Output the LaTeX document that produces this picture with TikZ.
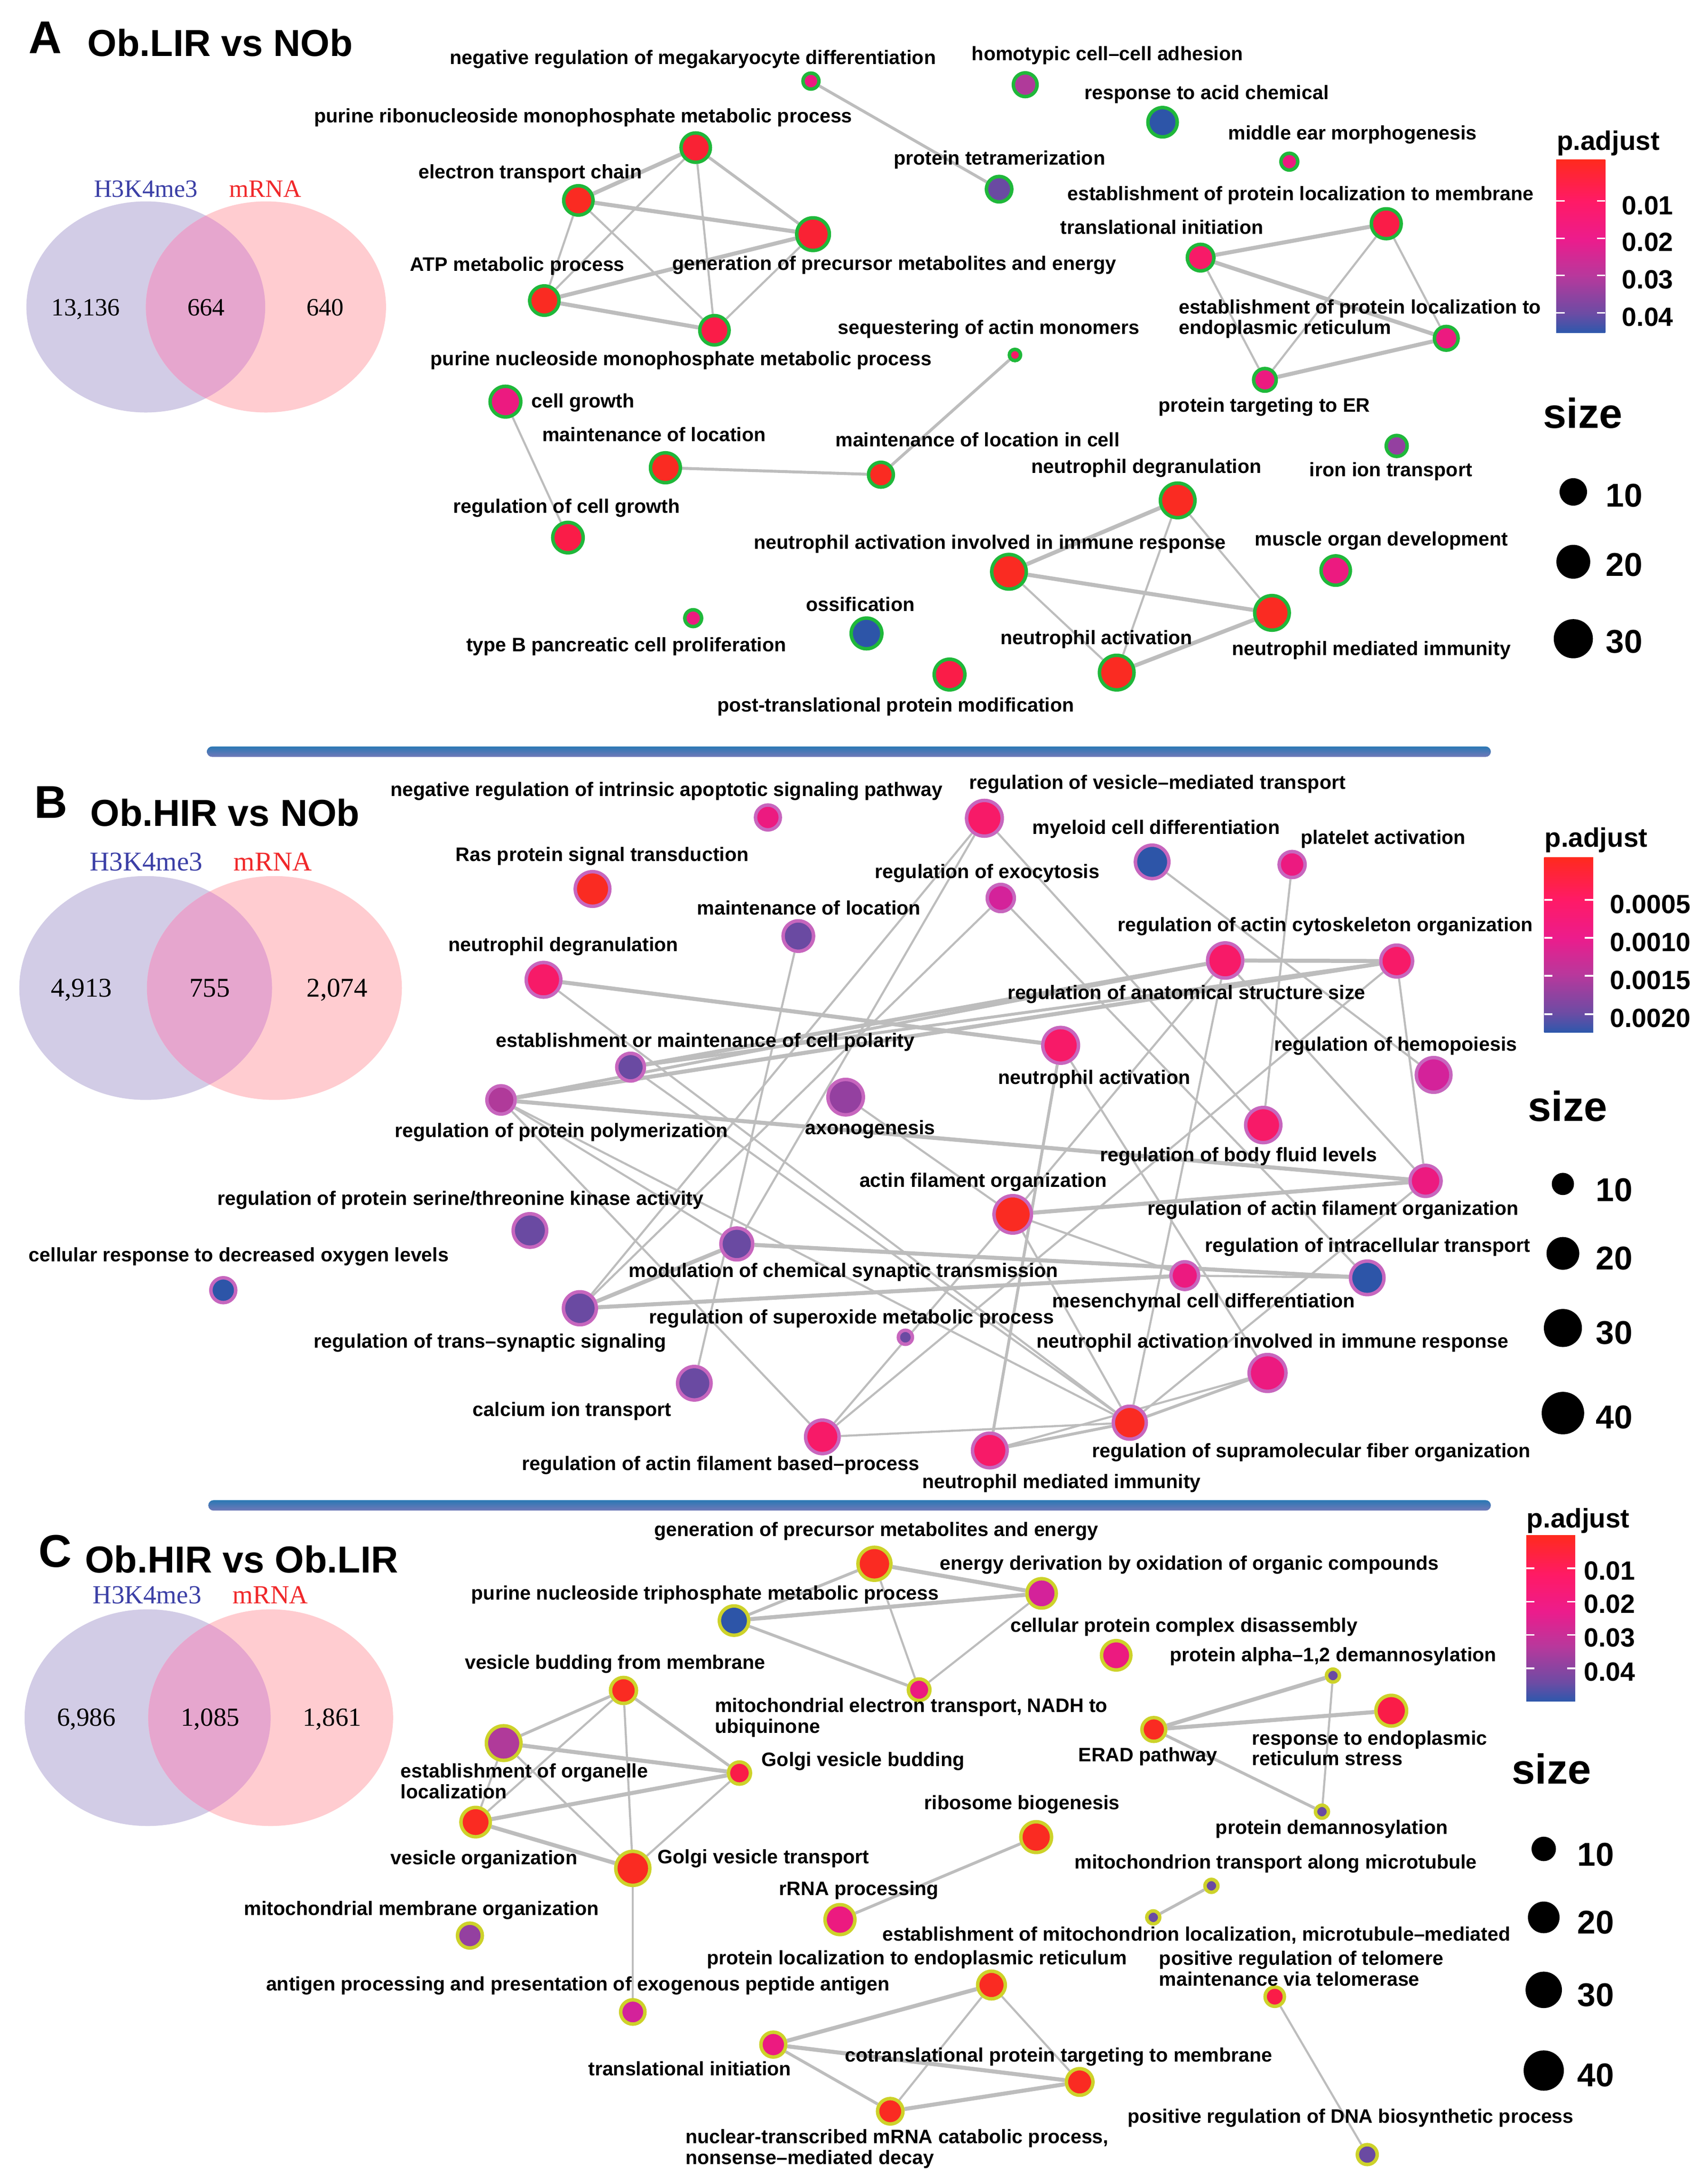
\documentclass[tikz,border=0pt]{standalone}
\usepackage{fontspec}
\setmainfont{Liberation Sans}
\newfontfamily\vennfont{Liberation Serif}
\usetikzlibrary{backgrounds}

\definecolor{cRed}{HTML}{FA2B22}
\definecolor{cScarlet}{HTML}{F92234}
\definecolor{cCrimson}{HTML}{FA1C48}
\definecolor{cRose}{HTML}{F71A68}
\definecolor{cPink}{HTML}{EC1A80}
\definecolor{cMagenta}{HTML}{D4229A}
\definecolor{cOrchid}{HTML}{B03A9A}
\definecolor{cViolet}{HTML}{9440A0}
\definecolor{cPurple}{HTML}{6A4AA2}
\definecolor{cBlue}{HTML}{2D55A8}
\definecolor{ringA}{HTML}{1FB83A}
\definecolor{ringB}{HTML}{C766BE}
\definecolor{ringC}{HTML}{CDD22A}
\definecolor{linkgray}{HTML}{BDBDBD}
\definecolor{vennL}{HTML}{D2CCE6}
\definecolor{vennR}{HTML}{FFCCD0}
\definecolor{vennM}{HTML}{E6A6CE}
\definecolor{vennBlue}{HTML}{3B3FA6}
\definecolor{vennRed}{HTML}{F0282A}
\definecolor{sepTop}{HTML}{2A78B4}
\definecolor{sepMid}{HTML}{1898D6}
\definecolor{sepBot}{HTML}{7078B8}
\definecolor{barRed}{HTML}{FF2A1E}
\definecolor{barPink}{HTML}{FF1A66}
\definecolor{barMagenta}{HTML}{EC1C8C}
\definecolor{barOrchid}{HTML}{B8389C}
\definecolor{barPurple}{HTML}{6C4CA4}
\definecolor{barBlue}{HTML}{2E58AC}

\pgfdeclareverticalshading{padjbar}{100bp}{color(0bp)=(barBlue); color(25bp)=(barBlue); color(30.5bp)=(barPurple); color(41.5bp)=(barOrchid); color(52bp)=(barMagenta); color(63bp)=(barPink); color(75bp)=(barRed); color(100bp)=(barRed)}

\tikzset{
  term/.style={circle, inner sep=0pt, line width=0.5mm},
  termA/.style={term, draw=ringA},
  termB/.style={term, draw=ringB},
  termC/.style={term, draw=ringC},
  sz/.style={minimum size=#1*0.4mm-0.5mm},
  keydot/.style={circle, fill=black, inner sep=0pt, minimum size=#1*0.4mm},
  lbl/.style={font=\fontsize{8}{6.5}\selectfont\bfseries, inner sep=0pt, text height=2.06mm, text depth=0.59mm},
  lblpair/.style={font=\fontsize{8}{6.5}\selectfont\bfseries, inner sep=0pt, align=left, anchor=west},
  link/.style={draw=linkgray, line width=0.3mm},
  linkmid/.style={link, line width=0.42mm},
  linkthick/.style={link, line width=0.58mm},
  panel/.style={font=\fontsize{18.8}{20}\selectfont\bfseries, inner sep=0pt, anchor=base west},
  paneltitle/.style={font=\fontsize{15.4}{17}\selectfont\bfseries, inner sep=0pt, anchor=base west},
  venntxt/.style={font=\vennfont\fontsize{#1}{#1}\selectfont, inner sep=0pt, anchor=base},
  keytitle/.style={font=\fontsize{11}{12}\selectfont\bfseries, inner sep=0pt, anchor=base west},
  ticklbl/.style={font=\fontsize{10.8}{12}\selectfont\bfseries, inner sep=0pt, anchor=base west},
  sizetitle/.style={font=\fontsize{17.2}{18}\selectfont\bfseries, inner sep=0pt, anchor=base west},
  sizelbl/.style={font=\fontsize{13.5}{14}\selectfont\bfseries, inner sep=0pt, anchor=base west},
  sepbar/.style={top color=sepTop, middle color=sepMid, bottom color=sepBot, rounded corners=0.75mm}
}

\begin{document}
\begin{tikzpicture}[x=0.2mm, y=-0.2mm]
\useasboundingbox (0,0) rectangle (1230,1572.6);

% panel A
\node[panel] (aLetter) at (20.4,38.3) {A};
\node[paneltitle] (aTitle) at (62.7,40.4) {Ob.LIR vs NOb};
\fill[vennL] (105,221) ellipse [x radius=86, y radius=76];
\fill[vennR] (191.5,221) ellipse [x radius=86.5, y radius=76];
\begin{scope}
\clip (105,221) ellipse [x radius=86, y radius=76];
\fill[vennM] (191.5,221) ellipse [x radius=86.5, y radius=76];
\end{scope}
\node[venntxt=10.2, text=vennBlue] (aH3) at (105,142) {H3K4me3};
\node[venntxt=10.2, text=vennRed] (aRna) at (191,142) {mRNA};
\node[venntxt=10.2] (aOnly) at (61.8,227.4) {13,136};
\node[venntxt=10.2] (aBoth) at (148.4,227.4) {664};
\node[venntxt=10.2] (aRnaOnly) at (234.1,227.4) {640};

\node[termA, sz=7, fill=cPink] (aNegmeg) at (584,58.4) {};
\node[termA, sz=9.8, fill=cOrchid] (aHomotypic) at (738.3,61) {};
\node[termA, sz=11.8, fill=cBlue] (aAcid) at (837.2,88) {};
\node[termA, sz=7.3, fill=cPink] (aMiddleear) at (928.5,116.4) {};
\node[termA, sz=10.4, fill=cPurple] (aTetramer) at (719.5,136.2) {};
\node[termA, sz=11.8, fill=cScarlet] (aPrrmp) at (501,106.3) {};
\node[termA, sz=11.8, fill=cRed] (aEtc) at (416.5,144.3) {};
\node[termA, sz=13, fill=cScarlet] (aGenprec) at (585.5,168.6) {};
\node[termA, sz=11.8, fill=cRed] (aAtp) at (392,216.4) {};
\node[termA, sz=11.8, fill=cCrimson] (aPnmp) at (514.5,237.8) {};
\node[termA, sz=10.8, fill=cRose] (aTransinit) at (864.6,185.5) {};
\node[termA, sz=12, fill=cCrimson] (aEplm) at (998.3,161.1) {};
\node[termA, sz=9.8, fill=cPink] (aEper) at (1041.5,243.6) {};
\node[termA, sz=9.4, fill=cPink] (aPter) at (910.9,273.5) {};
\node[termA, sz=5.3, fill=cRose] (aSeqactin) at (730.9,255.6) {};
\node[termA, sz=10.2, fill=cRed] (aMlic) at (634.4,341.8) {};
\node[termA, sz=12, fill=cRed] (aMloc) at (479.2,336.8) {};
\node[termA, sz=12.3, fill=cPink] (aCellgrowth) at (364,289.2) {};
\node[termA, sz=12.2, fill=cCrimson] (aRegcg) at (409,387.1) {};
\node[termA, sz=13.7, fill=cRed] (aNdegran) at (848.1,360.3) {};
\node[termA, sz=13.7, fill=cRed] (aNairr) at (726.6,411.7) {};
\node[termA, sz=13.7, fill=cRed] (aNmi) at (916,441.3) {};
\node[termA, sz=13.7, fill=cRed] (aNact) at (804.2,484.3) {};
\node[termA, sz=11.8, fill=cPink] (aMuscle) at (961.9,410.8) {};
\node[termA, sz=8.8, fill=cViolet] (aIron) at (1005.8,321.1) {};
\node[termA, sz=12.3, fill=cBlue] (aOssif) at (624,456.1) {};
\node[termA, sz=7.3, fill=cPink] (aTypeB) at (499.2,445.1) {};
\node[termA, sz=12.3, fill=cCrimson] (aPtpm) at (683.8,485.7) {};

\node[lbl] (aNegmegT) at (499,42.7) {negative regulation of megakaryocyte differentiation};
\node[lbl] (aHomotypicT) at (797.5,40) {homotypic cell–cell adhesion};
\node[lbl] (aAcidT) at (869,68) {response to acid chemical};
\node[lbl] (aMiddleearT) at (974,97) {middle ear morphogenesis};
\node[lbl] (aTetramerT) at (719.8,115) {protein tetramerization};
\node[lbl] (aPrrmpT) at (420,84.5) {purine ribonucleoside monophosphate metabolic process};
\node[lbl] (aEtcT) at (381.8,125) {electron transport chain};
\node[lbl] (aGenprecT) at (644,190.8) {generation of precursor metabolites and energy};
\node[lbl] (aAtpT) at (372.6,191.6) {ATP metabolic process};
\node[lbl] (aPnmpT) at (490.5,259.6) {purine nucleoside monophosphate metabolic process};
\node[lbl] (aTransinitT) at (836.7,165) {translational initiation};
\node[lbl] (aEplmT) at (936.6,140.8) {establishment of protein localization to membrane};
\node[lblpair] (aEperT) at (848.5,229.6) {establishment of protein localization to\\endoplasmic reticulum};
\node[lbl] (aPterT) at (910.5,293) {protein targeting to ER};
\node[lbl] (aSeqactinT) at (712,237) {sequestering of actin monomers};
\node[lbl] (aMlicT) at (704,318) {maintenance of location in cell};
\node[lbl] (aMlocT) at (471,314) {maintenance of location};
\node[lbl, anchor=west] (aCellgrowthT) at (382.4,290) {cell growth};
\node[lbl] (aRegcgT) at (408,365.9) {regulation of cell growth};
\node[lbl] (aNdegranT) at (825.6,337.1) {neutrophil degranulation};
\node[lbl] (aNairrT) at (712.9,391.6) {neutrophil activation involved in immune response};
\node[lbl] (aNmiT) at (987.5,468.3) {neutrophil mediated immunity};
\node[lbl] (aNactT) at (789.6,460.3) {neutrophil activation};
\node[lbl] (aMuscleT) at (994.8,389.4) {muscle organ development};
\node[lbl] (aIronT) at (1001.6,339.4) {iron ion transport};
\node[lbl] (aOssifT) at (619.6,436.4) {ossification};
\node[lbl] (aTypeBT) at (451,465.5) {type B pancreatic cell proliferation};
\node[lbl] (aPtpmT) at (645,508.7) {post-translational protein modification};

\node[keytitle] (aKeyTitle) at (1120.7,108) {p.adjust};
\shade[shading=padjbar] (1120.7,115) rectangle (1156,239.5);
\foreach \ty in {144.6,171.6,198.3,225.3}
  \draw[white, line width=0.25mm] (1120.7,\ty) -- ++(6,0) (1156,\ty) -- ++(-6,0);
\foreach \t/\ty [count=\i] in {0.01/154.5, 0.02/181, 0.03/208, 0.04/234.8}
  \node[ticklbl] (aTick\i) at (1167.7,\ty) {\t};
\node[sizetitle] (aSizeTitle) at (1110.9,308.4) {size};
\foreach \s/\r/\dy/\ly [count=\i] in {10/9.9/354.2/365, 20/12.2/404.5/415, 30/14.1/459.9/470} {
  \node[keydot=\r] (aDot\i) at (1133,\dy) {};
  \node[sizelbl] (aSize\i) at (1156,\ly) {\s};
}

\shade[sepbar] (149,537.5) rectangle (1073.6,545);

% panel B
\node[panel] (bLetter) at (24.3,589.2) {B};
\node[paneltitle] (bTitle) at (64.7,594.7) {Ob.HIR vs NOb};
\fill[vennL] (104.9,711.4) ellipse [x radius=91, y radius=80.6];
\fill[vennR] (197.6,711.4) ellipse [x radius=91.8, y radius=80.6];
\begin{scope}
\clip (104.9,711.4) ellipse [x radius=91, y radius=80.6];
\fill[vennM] (197.6,711.4) ellipse [x radius=91.8, y radius=80.6];
\end{scope}
\node[venntxt=11.1, text=vennBlue] (bH3) at (105.3,627.1) {H3K4me3};
\node[venntxt=11.1, text=vennRed] (bRna) at (196.5,627.1) {mRNA};
\node[venntxt=11.1] (bOnly) at (58.8,717.9) {4,913};
\node[venntxt=11.1] (bBoth) at (151,717.9) {755};
\node[venntxt=11.1] (bRnaOnly) at (242.8,717.9) {2,074};

\node[termB, sz=10.2, fill=cPink] (bNegapop) at (553,588.6) {};
\node[termB, sz=14.1, fill=cRose] (bVesmed) at (708.9,589.2) {};
\node[termB, sz=13.3, fill=cBlue] (bMyeloid) at (829.7,620.6) {};
\node[termB, sz=10.6, fill=cPink] (bPlatelet) at (930.5,622.5) {};
\node[termB, sz=11, fill=cMagenta] (bExocyt) at (720.7,646.6) {};
\node[termB, sz=13.7, fill=cRed] (bRas) at (426.7,640.1) {};
\node[termB, sz=12.2, fill=cPurple] (bMloc) at (574.9,674) {};
\node[termB, sz=13.7, fill=cRose] (bNdeg) at (391.4,705.5) {};
\node[termB, sz=13.9, fill=cRose] (bAnat) at (882.3,691.6) {};
\node[termB, sz=12.7, fill=cRose] (bRactcyto) at (1005.8,692) {};
\node[termB, sz=14.1, fill=cRose] (bNact) at (763.8,752.7) {};
\node[termB, sz=13.7, fill=cMagenta] (bHemopo) at (1032.4,774) {};
\node[termB, sz=11.2, fill=cPurple] (bEstpol) at (454.1,768.4) {};
\node[termB, sz=11.4, fill=cOrchid] (bProtpoly) at (360.8,792) {};
\node[termB, sz=14, fill=cViolet] (bAxon) at (609,790) {};
\node[termB, sz=13.9, fill=cRose] (bBodyfl) at (909.7,810.1) {};
\node[termB, sz=12.4, fill=cPink] (bRactfil) at (1026.6,850.3) {};
\node[termB, sz=14.7, fill=cRed] (bActfil) at (729.3,874.4) {};
\node[termB, sz=13.3, fill=cBlue] (bIntracell) at (984.6,920.1) {};
\node[termB, sz=11.2, fill=cPink] (bMesench) at (853.2,918.5) {};
\node[termB, sz=12.7, fill=cPurple] (bModchem) at (530.6,895.7) {};
\node[termB, sz=13.3, fill=cPurple] (bSerthr) at (381.6,886) {};
\node[termB, sz=10.2, fill=cBlue] (bCellresp) at (160.8,929) {};
\node[termB, sz=13.1, fill=cPurple] (bTranssyn) at (417.6,942) {};
\node[termB, sz=6.3, fill=cPurple] (bSuperox) at (652,962.9) {};
\node[termB, sz=14.5, fill=cPink] (bNairr) at (912.8,988.6) {};
\node[termB, sz=13.3, fill=cPurple] (bCalcium) at (500,996) {};
\node[termB, sz=13.3, fill=cRose] (bActfilbased) at (592.2,1034.6) {};
\node[termB, sz=13.1, fill=cRed] (bSupramol) at (813.6,1024.4) {};
\node[termB, sz=13.7, fill=cRose] (bNmi) at (712.8,1044.4) {};

\node[lbl] (bNegapopT) at (480,569.7) {negative regulation of intrinsic apoptotic signaling pathway};
\node[lbl] (bVesmedT) at (833.5,564.5) {regulation of vesicle–mediated transport};
\node[lbl] (bMyeloidT) at (832.6,597.1) {myeloid cell differentiation};
\node[lbl] (bPlateletT) at (996,604) {platelet activation};
\node[lbl] (bExocytT) at (711,628.6) {regulation of exocytosis};
\node[lbl] (bRasT) at (433.7,616.4) {Ras protein signal transduction};
\node[lbl] (bMlocT) at (582.5,654.9) {maintenance of location};
\node[lbl] (bNdegT) at (405.7,681.2) {neutrophil degranulation};
\node[lbl] (bRactcytoT) at (954.4,667) {regulation of actin cytoskeleton organization};
\node[lbl] (bAnatT) at (854.4,716) {regulation of anatomical structure size};
\node[lbl] (bNactT) at (788,777.1) {neutrophil activation};
\node[lbl] (bHemopoT) at (1005,753) {regulation of hemopoiesis};
\node[lbl] (bEstpolT) at (507.8,750.3) {establishment or maintenance of cell polarity};
\node[lbl] (bProtpolyT) at (404.3,815.1) {regulation of protein polymerization};
\node[lbl] (bAxonT) at (626.6,813.3) {axonogenesis};
\node[lbl] (bBodyflT) at (892,832.7) {regulation of body fluid levels};
\node[lbl] (bRactfilT) at (960,871.2) {regulation of actin filament organization};
\node[lbl] (bActfilT) at (708,851.2) {actin filament organization};
\node[lbl] (bIntracellT) at (984.8,897.9) {regulation of intracellular transport};
\node[lbl] (bMesenchT) at (866.8,937.9) {mesenchymal cell differentiation};
\node[lbl] (bModchemT) at (607.4,916) {modulation of chemical synaptic transmission};
\node[lbl] (bSerthrT) at (331.6,864.2) {regulation of protein serine/threonine kinase activity};
\node[lbl] (bCellrespT) at (172,904.6) {cellular response to decreased oxygen levels};
\node[lbl] (bTranssynT) at (353,967) {regulation of trans–synaptic signaling};
\node[lbl] (bSuperoxT) at (613.3,949.4) {regulation of superoxide metabolic process};
\node[lbl] (bNairrT) at (916.4,967) {neutrophil activation involved in immune response};
\node[lbl] (bCalciumT) at (412,1016) {calcium ion transport};
\node[lbl] (bActfilbasedT) at (519,1055) {regulation of actin filament based–process};
\node[lbl] (bSupramolT) at (944.4,1045.7) {regulation of supramolecular fiber organization};
\node[lbl] (bNmiT) at (764.4,1067.9) {neutrophil mediated immunity};

\node[keytitle] (bKeyTitle) at (1112,610) {p.adjust};
\shade[shading=padjbar] (1112,617.5) rectangle (1147.3,743.4);
\foreach \ty in {647.9,675.3,702.7,730.3}
  \draw[white, line width=0.25mm] (1112,\ty) -- ++(6,0) (1147.3,\ty) -- ++(-6,0);
\foreach \t/\ty [count=\i] in {0.0005/657.7, 0.0010/684.9, 0.0015/712.3, 0.0020/739.7}
  \node[ticklbl] (bTick\i) at (1159.1,\ty) {\t};
\node[sizetitle] (bSizeTitle) at (1100,807.4) {size};
\foreach \s/\r/\dy/\ly [count=\i] in {10/8/852.5/865.1, 20/11.8/902.5/914.2, 30/13.7/956.2/967.9, 40/15.3/1017.5/1028.5} {
  \node[keydot=\r] (bDot\i) at (1125.5,\dy) {};
  \node[sizelbl] (bSize\i) at (1148.9,\ly) {\s};
}

\shade[sepbar] (150,1080.2) rectangle (1073.6,1087.7);

% panel C
\node[panel] (cLetter) at (27.5,1128.5) {C};
\node[paneltitle] (cTitle) at (60.8,1132.6) {Ob.HIR vs Ob.LIR};
\fill[vennL] (106.3,1236.8) ellipse [x radius=88.6, y radius=78];
\fill[vennR] (194.9,1236.8) ellipse [x radius=88.2, y radius=78];
\begin{scope}
\clip (106.3,1236.8) ellipse [x radius=88.6, y radius=78];
\fill[vennM] (194.9,1236.8) ellipse [x radius=88.2, y radius=78];
\end{scope}
\node[venntxt=10.7, text=vennBlue] (cH3) at (105.9,1154.7) {H3K4me3};
\node[venntxt=10.7, text=vennRed] (cRna) at (194.7,1154.7) {mRNA};
\node[venntxt=10.7] (cOnly) at (62.2,1242.9) {6,986};
\node[venntxt=10.7] (cBoth) at (151.4,1242.9) {1,085};
\node[venntxt=10.7] (cRnaOnly) at (239.2,1242.9) {1,861};

\node[termC, sz=13.1, fill=cRed] (cGenprec) at (629.7,1126) {};
\node[termC, sz=11.8, fill=cMagenta] (cEnergy) at (750.1,1147.3) {};
\node[termC, sz=11.8, fill=cBlue] (cPurtri) at (528.6,1166.9) {};
\node[termC, sz=9, fill=cPink] (cMitoet) at (661.9,1216.7) {};
\node[termC, sz=11.8, fill=cPink] (cCpcd) at (803.8,1191.9) {};
\node[termC, sz=5.9, fill=cPurple] (cAlpha) at (959.9,1206.5) {};
\node[termC, sz=12.3, fill=cCrimson] (cRespER) at (1001.9,1231.8) {};
\node[termC, sz=9.8, fill=cRed] (cErad) at (830.9,1245.3) {};
\node[termC, sz=5.9, fill=cPurple] (cDemann) at (952,1304.5) {};
\node[termC, sz=10.6, fill=cRed] (cVbud) at (449,1217.2) {};
\node[termC, sz=13.7, fill=cOrchid] (cEstorg) at (362.7,1255.1) {};
\node[termC, sz=9.2, fill=cCrimson] (cGolgibud) at (532.5,1276.7) {};
\node[termC, sz=11.8, fill=cRed] (cVesorg) at (342.5,1312) {};
\node[termC, sz=13.5, fill=cRed] (cGolgitr) at (455.7,1345.3) {};
\node[termC, sz=10.2, fill=cViolet] (cMitomem) at (338.4,1393.7) {};
\node[termC, sz=10, fill=cMagenta] (cAntigen) at (455.7,1448.7) {};
\node[termC, sz=12.3, fill=cRed] (cRibo) at (746.2,1322.8) {};
\node[termC, sz=12, fill=cPink] (cRrna) at (604.9,1382.2) {};
\node[termC, sz=5.9, fill=cPurple] (cMitotr) at (872.4,1357.9) {};
\node[termC, sz=5.9, fill=cPurple] (cEstmito) at (830.5,1380.6) {};
\node[termC, sz=11.2, fill=cRed] (cPlocER) at (714,1429.3) {};
\node[termC, sz=8.2, fill=cCrimson] (cTelomere) at (918,1437.7) {};
\node[termC, sz=8.4, fill=cPurple] (cDna) at (984.6,1551.4) {};
\node[termC, sz=10.2, fill=cPink] (cTransinit) at (556.9,1472.2) {};
\node[termC, sz=10.8, fill=cRed] (cCotrans) at (777.5,1499.1) {};
\node[termC, sz=10.4, fill=cRed] (cNmdecay) at (641.1,1520.2) {};

\node[lbl] (cGenprecT) at (631,1102.4) {generation of precursor metabolites and energy};
\node[lbl] (cEnergyT) at (856.6,1126.9) {energy derivation by oxidation of organic compounds};
\node[lbl] (cPurtriT) at (507.8,1148.1) {purine nucleoside triphosphate metabolic process};
\node[lblpair] (cMitoetT) at (514.5,1236.8) {mitochondrial electron transport, NADH to\\ubiquinone};
\node[lbl] (cCpcdT) at (852.6,1171.5) {cellular protein complex disassembly};
\node[lbl] (cAlphaT) at (960,1192.7) {protein alpha–1,2 demannosylation};
\node[lblpair] (cRespERT) at (901.1,1258.8) {response to endoplasmic\\reticulum stress};
\node[lbl] (cEradT) at (826.6,1264.6) {ERAD pathway};
\node[lbl] (cDemannT) at (959,1317) {protein demannosylation};
\node[lbl] (cVbudT) at (443,1198.3) {vesicle budding from membrane};
\node[lblpair] (cEstorgT) at (288.2,1282.5) {establishment of organelle\\localization};
\node[lbl, anchor=west] (cGolgibudT) at (548.2,1268.2) {Golgi vesicle budding};
\node[lbl] (cVesorgT) at (348.6,1338.7) {vesicle organization};
\node[lbl, anchor=west] (cGolgitrT) at (473.3,1338.2) {Golgi vesicle transport};
\node[lbl] (cMitomemT) at (303.5,1375.3) {mitochondrial membrane organization};
\node[lbl] (cAntigenT) at (416.2,1429.8) {antigen processing and presentation of exogenous peptide antigen};
\node[lbl] (cRiboT) at (736,1299.3) {ribosome biogenesis};
\node[lbl] (cRrnaT) at (618.6,1361.2) {rRNA processing};
\node[lbl] (cMitotrT) at (918.7,1342) {mitochondrion transport along microtubule};
\node[lbl] (cEstmitoT) at (861.6,1393.7) {establishment of mitochondrion localization, microtubule–mediated};
\node[lbl] (cPlocERT) at (660.3,1411) {protein localization to endoplasmic reticulum};
\node[lblpair] (cTelomereT) at (834.4,1417.4) {positive regulation of telomere\\maintenance via telomerase};
\node[lbl] (cDnaT) at (972.7,1525.1) {positive regulation of DNA biosynthetic process};
\node[lbl] (cTransinitT) at (496.7,1490.9) {translational initiation};
\node[lbl] (cCotransT) at (762.3,1481.1) {cotranslational protein targeting to membrane};
\node[lblpair] (cNmdecayT) at (493.3,1547.2) {nuclear-transcribed mRNA catabolic process,\\nonsense–mediated decay};

\node[keytitle] (cKeyTitle) at (1099.1,1100) {p.adjust};
\shade[shading=padjbar] (1099.1,1105.6) rectangle (1134.4,1225);
\foreach \ty in {1129.3,1153.3,1177.2,1201.2}
  \draw[white, line width=0.25mm] (1099.1,\ty) -- ++(6,0) (1134.4,\ty) -- ++(-6,0);
\foreach \t/\ty [count=\i] in {0.01/1137.5, 0.02/1161.5, 0.03/1185.7, 0.04/1210.2}
  \node[ticklbl] (cTick\i) at (1140.3,\ty) {\t};
\node[sizetitle] (cSizeTitle) at (1088.5,1284.6) {size};
\foreach \s/\r/\dy/\ly [count=\i] in {10/8.8/1331.3/1343.6, 20/11.4/1380.6/1392.4, 30/13.1/1432.8/1444.6, 40/14.5/1490.9/1502.4} {
  \node[keydot=\r] (cDot\i) at (1111.7,\dy) {};
  \node[sizelbl] (cSize\i) at (1135.6,\ly) {\s};
}

\begin{scope}[on background layer]
\fill[white] (0,0) rectangle (1230,1572.6);
\draw[linkthick] (aPrrmp) -- (aEtc);
\draw[linkmid] (aPrrmp) -- (aGenprec);
\draw[link] (aPrrmp) -- (aAtp);
\draw[link] (aPrrmp) -- (aPnmp);
\draw[linkthick] (aEtc) -- (aGenprec);
\draw[link] (aEtc) -- (aAtp);
\draw[link] (aEtc) -- (aPnmp);
\draw[linkthick] (aAtp) -- (aGenprec);
\draw[linkthick] (aAtp) -- (aPnmp);
\draw[link] (aGenprec) -- (aPnmp);
\draw[linkthick] (aTransinit) -- (aEplm);
\draw[linkthick] (aTransinit) -- (aEper);
\draw[link] (aTransinit) -- (aPter);
\draw[link] (aEplm) -- (aPter);
\draw[link] (aEplm) -- (aEper);
\draw[linkthick] (aEper) -- (aPter);
\draw[linkmid] (aNegmeg) -- (aTetramer);
\draw[linkmid] (aSeqactin) -- (aMlic);
\draw[linkmid] (aMloc) -- (aMlic);
\draw[link] (aCellgrowth) -- (aRegcg);
\draw[linkthick] (aNdegran) -- (aNairr);
\draw[link] (aNdegran) -- (aNmi);
\draw[link] (aNdegran) -- (aNact);
\draw[linkthick] (aNairr) -- (aNmi);
\draw[link] (aNairr) -- (aNact);
\draw[linkthick] (aNmi) -- (aNact);

\draw[linkthick] (bNdeg) -- (bNact);
\draw[link] (bNdeg) -- (bSupramol);
\draw[linkmid] (bNact) -- (bNmi);
\draw[link] (bNact) -- (bNairr);
\draw[link] (bNairr) -- (bNmi);
\draw[linkmid] (bNairr) -- (bSupramol);
\draw[linkmid] (bNmi) -- (bSupramol);
\draw[link] (bVesmed) -- (bTranssyn);
\draw[link] (bVesmed) -- (bModchem);
\draw[link] (bVesmed) -- (bBodyfl);
\draw[link] (bExocyt) -- (bTranssyn);
\draw[link] (bExocyt) -- (bIntracell);
\draw[link] (bMyeloid) -- (bHemopo);
\draw[link] (bPlatelet) -- (bBodyfl);
\draw[link] (bMloc) -- (bCalcium);
\draw[linkthick] (bEstpol) -- (bAnat);
\draw[linkmid] (bEstpol) -- (bRactcyto);
\draw[link] (bEstpol) -- (bSupramol);
\draw[linkmid] (bProtpoly) -- (bAnat);
\draw[linkthick] (bProtpoly) -- (bRactcyto);
\draw[linkthick] (bProtpoly) -- (bRactfil);
\draw[link] (bProtpoly) -- (bActfilbased);
\draw[link] (bProtpoly) -- (bSupramol);
\draw[link] (bProtpoly) -- (bModchem);
\draw[linkthick] (bAnat) -- (bRactcyto);
\draw[link] (bAnat) -- (bActfil);
\draw[link] (bAnat) -- (bSupramol);
\draw[link] (bAnat) -- (bRactfil);
\draw[link] (bRactcyto) -- (bRactfil);
\draw[link] (bRactcyto) -- (bActfilbased);
\draw[linkthick] (bActfil) -- (bRactfil);
\draw[link] (bActfil) -- (bSupramol);
\draw[link] (bActfil) -- (bActfilbased);
\draw[link] (bActfil) -- (bMesench);
\draw[link] (bRactfil) -- (bSupramol);
\draw[link] (bActfilbased) -- (bSupramol);
\draw[link] (bAxon) -- (bActfil);
\draw[linkthick] (bModchem) -- (bTranssyn);
\draw[linkthick] (bModchem) -- (bIntracell);
\draw[linkthick] (bTranssyn) -- (bMesench);
\draw[link] (bMesench) -- (bIntracell);

\draw[linkthick] (cGenprec) -- (cEnergy);
\draw[linkthick] (cPurtri) -- (cEnergy);
\draw[linkmid] (cPurtri) -- (cGenprec);
\draw[link] (cGenprec) -- (cMitoet);
\draw[link] (cEnergy) -- (cMitoet);
\draw[linkmid] (cPurtri) -- (cMitoet);
\draw[linkthick] (cErad) -- (cAlpha);
\draw[linkthick] (cErad) -- (cRespER);
\draw[linkmid] (cErad) -- (cDemann);
\draw[link] (cAlpha) -- (cDemann);
\draw[linkmid] (cVbud) -- (cEstorg);
\draw[linkmid] (cVbud) -- (cGolgibud);
\draw[link] (cVbud) -- (cGolgitr);
\draw[link] (cVbud) -- (cVesorg);
\draw[linkthick] (cEstorg) -- (cGolgibud);
\draw[link] (cEstorg) -- (cVesorg);
\draw[link] (cEstorg) -- (cGolgitr);
\draw[linkthick] (cGolgibud) -- (cVesorg);
\draw[link] (cGolgibud) -- (cGolgitr);
\draw[linkthick] (cVesorg) -- (cGolgitr);
\draw[link] (cGolgitr) -- (cAntigen);
\draw[linkmid] (cRibo) -- (cRrna);
\draw[linkmid] (cMitotr) -- (cEstmito);
\draw[link] (cTelomere) -- (cDna);
\draw[linkthick] (cTransinit) -- (cPlocER);
\draw[linkthick] (cTransinit) -- (cCotrans);
\draw[linkmid] (cTransinit) -- (cNmdecay);
\draw[link] (cPlocER) -- (cCotrans);
\draw[link] (cPlocER) -- (cNmdecay);
\draw[linkthick] (cCotrans) -- (cNmdecay);
\end{scope}
\end{tikzpicture}
\end{document}
